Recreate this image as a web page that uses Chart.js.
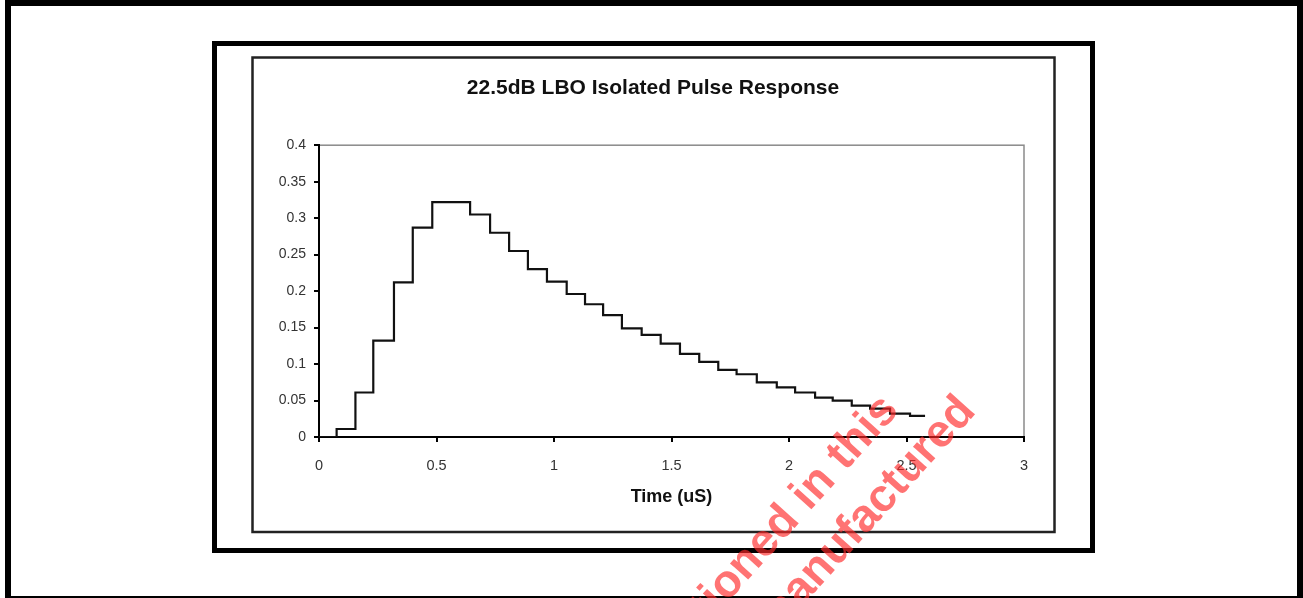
<!DOCTYPE html>
<html>
<head>
<meta charset="utf-8">
<script src="https://cdn.jsdelivr.net/npm/chart.js@4.4.0/dist/chart.umd.min.js"></script>
<style>
  html, body { margin: 0; padding: 0; background: #fff; }
  #wrap { width: 1303px; height: 598px; }
</style>
</head>
<body>
<div id="wrap"><canvas id="pulseChart" width="1303" height="598"></canvas></div>
<script>
// DATA
const timeUs = [0, 0.075, 0.155, 0.231, 0.319, 0.399, 0.482, 0.643, 0.728, 0.809, 0.889, 0.970,
  1.054, 1.132, 1.209, 1.289, 1.373, 1.454, 1.536, 1.618, 1.699, 1.777, 1.863, 1.948,
  2.026, 2.111, 2.186, 2.267, 2.345, 2.430, 2.515, 2.579];
const response = [0, 0.011, 0.061, 0.132, 0.212, 0.287, 0.322, 0.305, 0.280, 0.255, 0.230, 0.213,
  0.196, 0.182, 0.167, 0.149, 0.140, 0.128, 0.114, 0.103, 0.092, 0.086, 0.075, 0.068,
  0.061, 0.054, 0.050, 0.043, 0.039, 0.032, 0.029, 0.029];

const xTickValues = [0, 0.5, 1, 1.5, 2, 2.5, 3];
const xTickLabels = ['0', '0.5', '1', '1.5', '2', '2.5', '3'];
const yTickValues = [0, 0.05, 0.1, 0.15, 0.2, 0.25, 0.3, 0.35, 0.4];
const yTickLabels = ['0', '0.05', '0.1', '0.15', '0.2', '0.25', '0.3', '0.35', '0.4'];

const titleText = '22.5dB LBO Isolated Pulse Response';
const xTitleText = 'Time (uS)';
const watermarkLines = ['mentioned in this', 'manufactured'];

const points = timeUs.map((t, i) => ({ x: t, y: response[i] }));
const fontFamily = '"Liberation Sans", Arial, sans-serif';

// frames around the figure + grey box on top/right of plot
const framePlugin = {
  id: 'frames',
  beforeDraw(chart) {
    const ctx = chart.ctx;
    ctx.save();
    ctx.fillStyle = '#fff';
    ctx.fillRect(0, 0, chart.width, chart.height);

    // outer page border
    ctx.fillStyle = '#000';
    ctx.fillRect(5, 0, 6, 598);
    ctx.fillRect(5, 0, 1298, 6);
    ctx.fillRect(1297, 0, 6, 598);
    ctx.fillRect(5, 596, 1298, 2);

    // thick figure box
    ctx.strokeStyle = '#000';
    ctx.lineWidth = 5;
    ctx.strokeRect(214.5, 43.5, 878, 507);

    // thin chart box
    ctx.strokeStyle = '#222';
    ctx.lineWidth = 2.5;
    ctx.strokeRect(252.5, 57.5, 802, 474.5);

    // plot area outline
    const a = chart.chartArea;
    ctx.strokeStyle = '#8a8a8a';
    ctx.lineWidth = 1.5;
    ctx.strokeRect(a.left, a.top, a.right - a.left, a.bottom - a.top);
    ctx.restore();
  },
  afterDraw(chart) {
    // red watermark
    const ctx = chart.ctx;
    ctx.save();
    ctx.fillStyle = 'rgba(255, 40, 40, 0.65)';
    ctx.font = 'bold 46px ' + fontFamily;
    ctx.textAlign = 'right';
    ctx.textBaseline = 'alphabetic';
    const ends = [[900, 411], [977, 412]];
    watermarkLines.forEach((txt, i) => {
      ctx.save();
      ctx.translate(ends[i][0], ends[i][1]);
      ctx.rotate(-48 * Math.PI / 180);
      ctx.fillText(txt, 0, 0);
      ctx.restore();
    });
    ctx.restore();
  }
};

const pulseCtx = document.getElementById('pulseChart').getContext('2d');
const pulseChart = new Chart(pulseCtx, {
  type: 'line',
  data: {
    datasets: [{
      label: 'Pulse',
      data: points,
      stepped: 'before',
      borderColor: '#111',
      borderWidth: 2.2,
      pointRadius: 0,
      fill: false
    }]
  },
  options: {
    responsive: false,
    animation: false,
    layout: {
      padding: { left: 260, right: 257, top: 0, bottom: 0 }
    },
    plugins: {
      legend: { display: false },
      tooltip: { enabled: false },
      title: {
        display: true,
        text: titleText,
        color: '#111',
        font: { family: fontFamily, size: 21, weight: 'bold' },
        padding: { top: 76, bottom: 44 }
      }
    },
    scales: {
      x: {
        type: 'linear',
        min: 0,
        max: 3,
        afterBuildTicks: (scale) => { scale.ticks = xTickValues.map(v => ({ value: v })); },
        afterFit: (scale) => { scale.height = 161; },
        ticks: {
          color: '#333',
          padding: 15,
          font: { family: fontFamily, size: 14.5 },
          callback: (value) => xTickLabels[xTickValues.indexOf(value)]
        },
        grid: { drawOnChartArea: false, drawTicks: true, tickLength: 5, color: '#000', lineWidth: 2 },
        border: { display: true, color: '#000', width: 2 },
        title: {
          display: true,
          text: xTitleText,
          color: '#111',
          font: { family: fontFamily, size: 18, weight: 'bold' },
          padding: { top: 0, bottom: 90 }
        }
      },
      y: {
        min: 0,
        max: 0.4,
        afterBuildTicks: (scale) => { scale.ticks = yTickValues.map(v => ({ value: v })); },
        afterFit: (scale) => { scale.width = 59; },
        ticks: {
          color: '#333',
          padding: 8,
          font: { family: fontFamily, size: 14 },
          callback: (value) => yTickLabels[yTickValues.indexOf(value)]
        },
        grid: { drawOnChartArea: false, drawTicks: true, tickLength: 5, color: '#000', lineWidth: 2 },
        border: { display: true, color: '#000', width: 2 }
      },
      // empty spacer on the right so the title sits where the scan has it
      ySpacer: {
        position: 'right',
        display: true,
        afterFit: (scale) => { scale.width = 22; },
        ticks: { display: false },
        grid: { display: false },
        border: { display: false }
      }
    }
  },
  plugins: [framePlugin]
});
</script>
</body>
</html>
